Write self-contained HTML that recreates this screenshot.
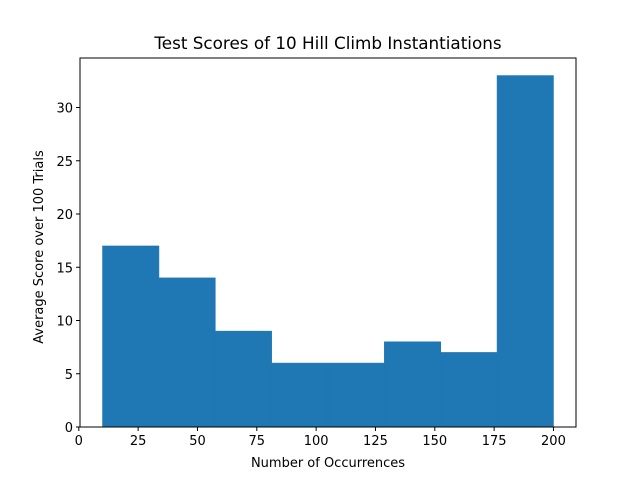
<!DOCTYPE html>
<html><head><meta charset="utf-8"><style>
body{margin:0;background:#fff;}
svg text{font-family:"DejaVu Sans","Liberation Sans",sans-serif;fill:#000;}
</style></head><body>
<svg id="chart" width="640" height="480" xmlns="http://www.w3.org/2000/svg">
<rect width="640" height="480" fill="#fff"/>
<text x="328" y="49" font-size="16.8" text-anchor="middle">Test Scores of 10 Hill Climb Instantiations</text>
<g id="bars"></g>
<g id="axes"></g>
<text x="328" y="467" font-size="13" text-anchor="middle">Number of Occurrences</text>
<text transform="translate(43,247) rotate(-90)" font-size="13" text-anchor="middle">Average Score over 100 Trials</text>
</svg>
<script>
const binEdges=[10,33.75,57.5,81.25,105,128.75,152.5,176.25,200];
const counts=[17,14,9,6,6,8,7,33];
const xTicks=[0,25,50,75,100,125,150,175,200];
const yTicks=[0,5,10,15,20,25,30];
const L=80,R=576,T=58,B=427;
const xmin=0.5,xmax=209.5,ymin=0,ymax=34.65;
const sx=v=>L+(v-xmin)/(xmax-xmin)*(R-L);
const sy=v=>B-(v-ymin)/(ymax-ymin)*(B-T);
const NS='http://www.w3.org/2000/svg';
const bars=document.getElementById('bars'),axes=document.getElementById('axes');
function mk(t,a,p){const e=document.createElementNS(NS,t);for(const k in a)e.setAttribute(k,a[k]);p.appendChild(e);return e;}
counts.forEach((c,i)=>{
 const r=mk('rect',{x:sx(binEdges[i]),y:sy(c),width:sx(binEdges[i+1])-sx(binEdges[i]),height:sy(0)-sy(c),fill:'#1f77b4',stroke:'#1f77b4','stroke-width':0.6},bars);
 
 
});
const f=mk('rect',{x:L,y:T,width:R-L,height:B-T,fill:'none',stroke:'#000','stroke-width':1},axes);


xTicks.forEach(v=>{
 const x=sx(v);
 mk('line',{x1:x,x2:x,y1:B,y2:B+4,stroke:'#000'},axes);
 const t=mk('text',{x:x,y:B+18,'font-size':13,'text-anchor':'middle'},axes);t.textContent=v;
 
 
});
yTicks.forEach(v=>{
 const y=sy(v);
 mk('line',{x1:L-4,x2:L,y1:y,y2:y,stroke:'#000'},axes);
 const t=mk('text',{x:L-7,y:y+5,'font-size':13,'text-anchor':'end'},axes);t.textContent=v;
 
 
});
</script>
</body></html>
